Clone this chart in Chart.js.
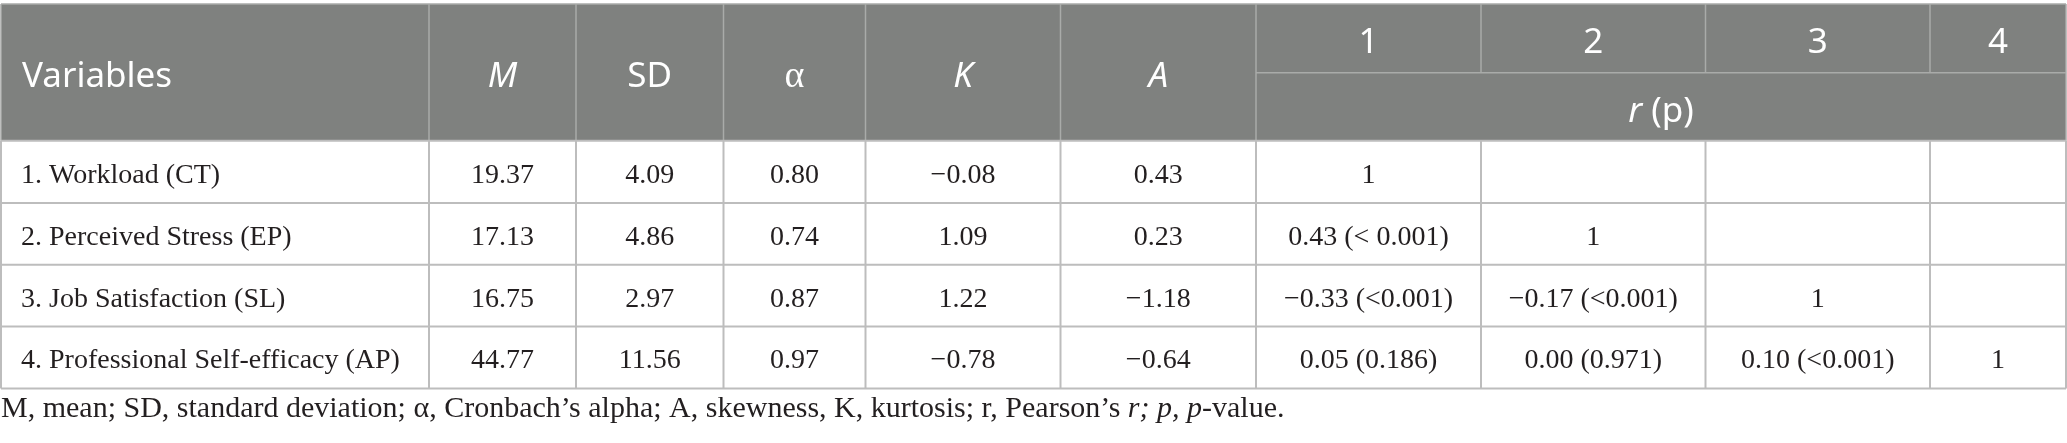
<!DOCTYPE html>
<html>
<head>
<meta charset="utf-8">
<script src="https://cdn.jsdelivr.net/npm/chart.js@4/dist/chart.umd.min.js"></script>
<style>
  html, body { margin: 0; padding: 0; background: #ffffff; }
  #wrap { width: 2067px; height: 443px; }
</style>
</head>
<body>
<div id="wrap"><canvas id="tableChart" width="2067" height="443"></canvas></div>
<script>
// table contents
const variables = [
    "1. Workload (CT)",
    "2. Perceived Stress (EP)",
    "3. Job Satisfaction (SL)",
    "4. Professional Self-efficacy (AP)"
];
const means = ["19.37", "17.13", "16.75", "44.77"];
const sds = ["4.09", "4.86", "2.97", "11.56"];
const alphas = ["0.80", "0.74", "0.87", "0.97"];
const kurtosis = ["\u22120.08", "1.09", "1.22", "\u22120.78"];
const skewness = ["0.43", "0.23", "\u22121.18", "\u22120.64"];
const corr1 = ["1", "0.43 (< 0.001)", "\u22120.33 (<0.001)", "0.05 (0.186)"];
const corr2 = ["", "1", "\u22120.17 (<0.001)", "0.00 (0.971)"];
const corr3 = ["", "", "1", "0.10 (<0.001)"];
const corr4 = ["", "", "", "1"];
const corrLabels = ["1", "2", "3", "4"];

// header segments: [text, italic]
const headerTitles = [
    [["Variables", false]],
    [["M", true]],
    [["SD", false]],
    [["\u03b1", false]],
    [["K", true]],
    [["A", true]]
];
const corrHeader = [["r", true], [" (p)", false]];
const footnote = [
    ["M, mean; SD, standard deviation; \u03b1, Cronbach\u2019s alpha; A, skewness, K, kurtosis; r, Pearson\u2019s ", false],
    ["r; p, p", true],
    ["-value.", false]
];

// layout in canvas units (x and y scales run 0..2067 and 0..443)
const colEdges = [1, 429, 576, 723.5, 865.5, 1060.5, 1256, 1481, 1705.5, 1930, 2066];
const rowEdges = [4, 72.7, 140.7, 203, 264.7, 326.5, 388.4];
const footBaseline = 417;

const HEAD_BG = "#7f817f";
const HEAD_LINE = "#a9aba9";
const BODY_LINE = "#bdbdbd";
const SANS = "\"Noto Sans\", \"Open Sans\", sans-serif";
const SERIF = "\"Liberation Serif\", \"Times New Roman\", serif";
const HEAD_SIZE = 35;
const BODY_SIZE = 28;
const FOOT_SIZE = 30;

function segWidth(ctx, segs, size, family) {
    let w = 0;
    segs.forEach(([t, it]) => {
        ctx.font = `${it ? "italic " : ""}400 ${size}px ${family}`;
        w += ctx.measureText(t).width;
    });
    return w;
}

function drawSegs(ctx, segs, x, y, size, family, align) {
    let start = x;
    if (align === "center") start = x - segWidth(ctx, segs, size, family) / 2;
    ctx.textAlign = "left";
    ctx.textBaseline = "alphabetic";
    segs.forEach(([t, it]) => {
        ctx.font = `${it ? "italic " : ""}400 ${size}px ${family}`;
        ctx.fillText(t, start, y);
        start += ctx.measureText(t).width;
    });
}

const tablePlugin = {
    id: "tablePlugin",
    afterDraw(chart) {
        const ctx = chart.ctx;
        const xs = chart.scales.x;
        const ys = chart.scales.y;
        const px = v => xs.getPixelForValue(v);
        const py = v => ys.getPixelForValue(v);
        const cx = i => (px(colEdges[i]) + px(colEdges[i + 1])) / 2;
        const cy = i => (py(rowEdges[i]) + py(rowEdges[i + 1])) / 2;

        ctx.save();

        // header band
        ctx.fillStyle = HEAD_BG;
        ctx.fillRect(px(colEdges[0]), py(rowEdges[0]), px(colEdges[10]) - px(colEdges[0]), py(rowEdges[2]) - py(rowEdges[0]));

        // header lines
        ctx.strokeStyle = HEAD_LINE;
        ctx.lineWidth = 1.5;
        ctx.beginPath();
        ctx.moveTo(px(colEdges[0]), py(rowEdges[0]));
        ctx.lineTo(px(colEdges[10]), py(rowEdges[0]));
        for (let i = 0; i <= 10; i++) {
            const bottom = i >= 7 && i <= 9 ? rowEdges[1] : rowEdges[2];
            ctx.moveTo(px(colEdges[i]), py(rowEdges[0]));
            ctx.lineTo(px(colEdges[i]), py(bottom));
        }
        ctx.moveTo(px(colEdges[6]), py(rowEdges[1]));
        ctx.lineTo(px(colEdges[10]), py(rowEdges[1]));
        ctx.stroke();

        // body grid
        ctx.strokeStyle = BODY_LINE;
        ctx.lineWidth = 2;
        ctx.beginPath();
        for (let r = 2; r < rowEdges.length; r++) {
            ctx.moveTo(px(colEdges[0]), py(rowEdges[r]));
            ctx.lineTo(px(colEdges[10]), py(rowEdges[r]));
        }
        for (let i = 0; i <= 10; i++) {
            ctx.moveTo(px(colEdges[i]), py(rowEdges[2]));
            ctx.lineTo(px(colEdges[i]), py(rowEdges[6]));
        }
        ctx.stroke();

        // header text
        ctx.fillStyle = "#ffffff";
        const spanMid = (py(rowEdges[0]) + py(rowEdges[2])) / 2;
        headerTitles.forEach((segs, i) => {
            const isAlpha = segs[0][0] === "\u03b1";
            const fam = isAlpha ? SERIF : SANS;
            const size = isAlpha ? 38 : HEAD_SIZE;
            if (i === 0) drawSegs(ctx, segs, px(22), spanMid + 15, size, fam, "left");
            else drawSegs(ctx, segs, cx(i), spanMid + 15, size, fam, "center");
        });
        corrLabels.forEach((t, j) => {
            drawSegs(ctx, [[t, false]], cx(6 + j), cy(0) + 15, HEAD_SIZE, SANS, "center");
        });
        drawSegs(ctx, corrHeader, (px(colEdges[6]) + px(colEdges[10])) / 2, cy(1) + 15, HEAD_SIZE, SANS, "center");

        // body text
        ctx.fillStyle = "#231f20";
        const cols = [means, sds, alphas, kurtosis, skewness, corr1, corr2, corr3, corr4];
        variables.forEach((name, r) => {
            const base = cy(2 + r) + 11;
            drawSegs(ctx, [[name, false]], px(21), base, BODY_SIZE, SERIF, "left");
            cols.forEach((col, c) => {
                if (col[r]) drawSegs(ctx, [[col[r], false]], cx(c + 1), base, BODY_SIZE, SERIF, "center");
            });
        });

        // footnote
        drawSegs(ctx, footnote, px(1), py(footBaseline), FOOT_SIZE, SERIF, "left");

        ctx.restore();
    }
};

new Chart(document.getElementById("tableChart").getContext("2d"), {
    type: "scatter",
    data: { datasets: [{ data: [] }] },
    options: {
        responsive: false,
        animation: false,
        devicePixelRatio: 1,
        layout: { padding: 0 },
        plugins: { legend: { display: false }, tooltip: { enabled: false }, title: { display: false } },
        scales: {
            x: { type: "linear", min: 0, max: 2067, display: false },
            y: { type: "linear", min: 0, max: 443, reverse: true, display: false }
        }
    },
    plugins: [tablePlugin]
});
</script>
</body>
</html>
